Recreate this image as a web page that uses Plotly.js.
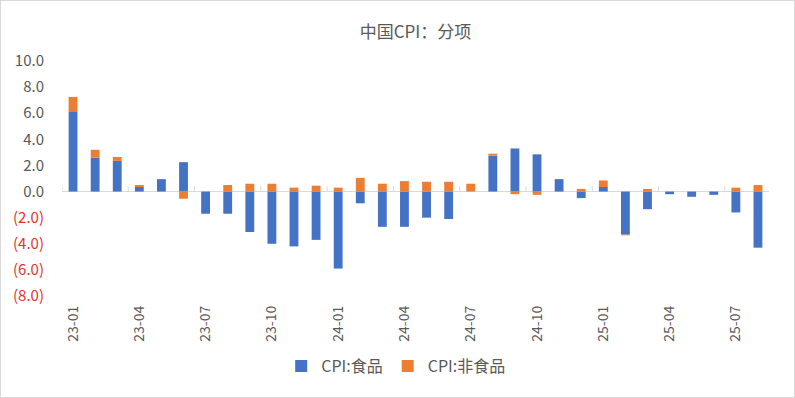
<!DOCTYPE html>
<html><head><meta charset="utf-8">
<script src="https://cdn.plot.ly/plotly-3.0.1.min.js"></script>
<style>
html,body{margin:0;padding:0;background:#fff;}
#wrap{position:relative;width:795px;height:398px;}
#chart{width:795px;height:398px;}
#frame{position:absolute;left:0;top:0;width:793px;height:396px;border:1px solid #d9d9d9;pointer-events:none;}
</style></head>
<body><div id="wrap"><div id="chart"></div><div id="frame"></div></div>
<script>
const months = ["23-01","23-02","23-03","23-04","23-05","23-06","23-07","23-08","23-09","23-10","23-11","23-12",
"24-01","24-02","24-03","24-04","24-05","24-06","24-07","24-08","24-09","24-10","24-11","24-12",
"25-01","25-02","25-03","25-04","25-05","25-06","25-07","25-08"];
const food = [6.15, 2.6, 2.35, 0.35, 0.95, 2.25, -1.7, -1.7, -3.1, -4.0, -4.2, -3.7,
-5.9, -0.9, -2.7, -2.7, -2.0, -2.1, 0.0, 2.75, 3.3, 2.85, 0.95, -0.5,
0.35, -3.3, -1.35, -0.2, -0.4, -0.25, -1.6, -4.3];
const nonFood = [1.1, 0.6, 0.3, 0.15, 0.0, -0.55, 0.0, 0.5, 0.6, 0.6, 0.3, 0.45,
0.3, 1.05, 0.6, 0.8, 0.75, 0.75, 0.6, 0.15, -0.2, -0.25, 0.0, 0.2,
0.5, -0.05, 0.2, 0.0, 0.0, 0.0, 0.3, 0.5];
const yTickVals = [10, 8, 6, 4, 2, 0, -2, -4, -6, -8];
const seriesNames = ["CPI:食品", "CPI:非食品"];
const titleText = "中国CPI：分项";

const xTickVals = months.filter((m, i) => i % 3 === 0);
const yTickText = yTickVals.map(v => v < 0
  ? '<span style="color:#e8322e">(' + Math.abs(v).toFixed(1) + ')</span>'
  : v.toFixed(1));

const shapes = [];
for (let b = -0.5; b < months.length - 1; b += 3) {
  shapes.push({type:'line', xref:'x', yref:'y', x0:b, x1:b, y0:0, y1:0.4,
    line:{color:'#d9d9d9', width:1}, layer:'below'});
}

const font = "'Noto Sans CJK SC', 'Noto Sans', sans-serif";
const traces = [
  {type:'bar', name:seriesNames[0], x:months, y:food, marker:{color:'#4472c4'}},
  {type:'bar', name:seriesNames[1], x:months, y:nonFood, marker:{color:'#ed7d31'}}
];
const layout = {
  width:795, height:398,
  margin:{l:62, r:26, t:61, b:102},
  paper_bgcolor:'#fff', plot_bgcolor:'#fff',
  barmode:'relative', bargap:0.6,
  font:{family:font, color:'#595959', size:14},
  title:{text:titleText, x:0.5, xanchor:'center', xref:'paper', y:1-32/398, yanchor:'middle', yref:'container',
    font:{family:font, size:17, color:'#595959'}},
  xaxis:{type:'category', categoryorder:'array', categoryarray:months,
    tickmode:'array', tickvals:xTickVals, ticktext:xTickVals, tickangle:-90,
    showgrid:false, showline:false, zeroline:false, ticks:'', ticklabelstandoff:6,
    tickfont:{size:14, color:'#595959', family:font}, range:[-0.5, months.length-0.5]},
  yaxis:{range:[-8,10], tickmode:'array', tickvals:yTickVals, ticktext:yTickText,
    showgrid:false, zeroline:true, zerolinecolor:'#d9d9d9', zerolinewidth:1,
    showline:false, ticks:'', ticklabelstandoff:17,
    tickfont:{size:15, color:'#595959', family:font}},
  legend:{orientation:'h', x:0.472, xanchor:'center', y:-0.298, yanchor:'middle',
    font:{size:16, color:'#595959', family:font}, traceorder:'normal', itemwidth:30},
  shapes:shapes,
  showlegend:true
};
Plotly.newPlot('chart', traces, layout, {displayModeBar:false, staticPlot:true});
</script></body></html>
